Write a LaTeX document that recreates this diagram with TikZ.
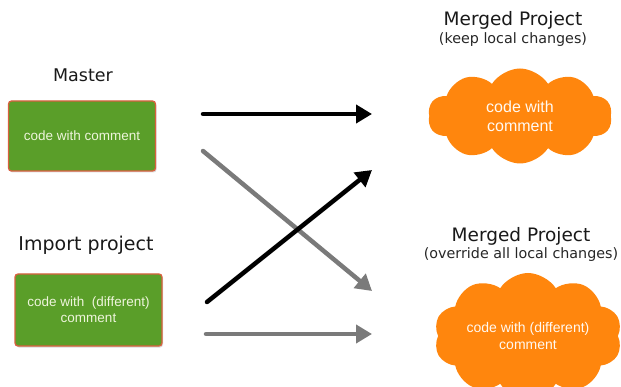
\documentclass[tikz,border=0pt]{standalone}
\usepackage{fontspec}
\setmainfont{DejaVu Sans}
\newfontfamily\arialf{Liberation Sans}
\usetikzlibrary{shapes.symbols,arrows.meta,shadows}
\definecolor{boxgreen}{HTML}{5A9E29}
\definecolor{boxedge}{HTML}{D9603F}
\definecolor{cloudorange}{HTML}{FF860D}
\definecolor{boxtext}{HTML}{EEF5DC}
\definecolor{greyarrow}{HTML}{7A7A7A}
\tikzset{
  title/.style={text=black!90, inner sep=0pt},
  subtitle/.style={font=\fontsize{14.3}{16}\selectfont, text=black!85, inner sep=0pt},
  greenbox/.style={draw=boxedge, line width=1.3pt, fill=boxgreen, rounded corners=3pt,
    text=boxtext, align=center, font=\arialf\fontsize{13.5}{16}\selectfont,
    drop shadow={shadow xshift=1pt, shadow yshift=-1.5pt, opacity=0.3}},
  orangecloud/.style={cloud, cloud puffs=10, cloud puff arc=115, cloud ignores aspect,
    fill=cloudorange, draw=none,
    text=white!95!orange, align=center, inner sep=0pt},
  blackarrow/.style={line width=4.5pt, black, line cap=round, -{Triangle[length=16pt,width=18pt]}},
  greyarrowst/.style={line width=4.5pt, greyarrow, line cap=round, -{Triangle[length=16pt,width=18pt]}},
}
\begin{document}
\begin{tikzpicture}[x=1pt,y=-1pt]
\useasboundingbox (0,0) rectangle (621,387);
% titles
\node[title, font=\fontsize{17.5}{19}\selectfont] (tmaster) at (83,75) {Master};
\node[title, font=\fontsize{19}{21}\selectfont] (timport) at (86,245) {Import project};
\node[title, font=\fontsize{18.5}{21}\selectfont] (tmerged1) at (513,20) {Merged Project};
\node[subtitle] (sub1) at (513,40) {(keep local changes)};
\node[title, font=\fontsize{18.5}{21}\selectfont] (tmerged2) at (521,236) {Merged Project};
\node[subtitle] (sub2) at (521,255) {(override all local changes)};
% boxes
\node[greenbox, minimum width=147pt, minimum height=70pt] (master) at (82,136) {code with comment};
\node[greenbox, minimum width=147pt, minimum height=72pt] (import) at (88.5,310) {code with\ \ (different)\\comment};
% clouds
\node[orangecloud, minimum width=184pt, minimum height=95pt,
      font=\arialf\fontsize{16}{19}\selectfont] (cloud1) at (520,116) {code with\\comment};
\node[orangecloud, minimum width=188pt, minimum height=126pt,
      font=\arialf\fontsize{14}{17}\selectfont] (cloud2) at (528,336) {code with (different)\\comment};
% arrow endpoints
\coordinate (a1s) at (203,114);
\coordinate (a1e) at (372,114);
\coordinate (a2s) at (203,151);
\coordinate (a2e) at (372,291);
\coordinate (a3s) at (207,302);
\coordinate (a3e) at (372,170);
\coordinate (a4s) at (206,334);
\coordinate (a4e) at (372,334);
\draw[greyarrowst] (a2s) -- (a2e);
\draw[blackarrow] (a3s) -- (a3e);
\draw[blackarrow] (a1s) -- (a1e);
\draw[greyarrowst] (a4s) -- (a4e);
\end{tikzpicture}
\end{document}
